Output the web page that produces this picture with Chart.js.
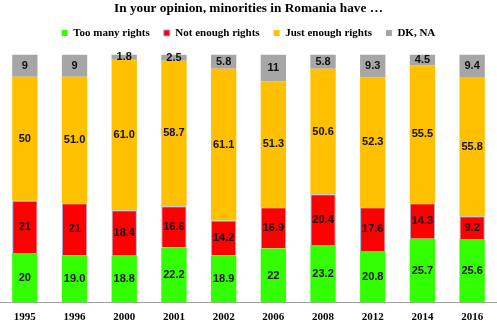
<!DOCTYPE html>
<html>
<head>
<meta charset="utf-8">
<script src="https://cdn.jsdelivr.net/npm/chart.js@4"></script>
<style>
  html, body { margin: 0; padding: 0; background: #fff; }
  #wrap { width: 497px; height: 323px; }
</style>
</head>
<body>
<div id="wrap"><canvas id="chart" width="497" height="323"></canvas></div>
<script>
// data (labels as printed on the bars)
const years = ['1995', '1996', '2000', '2001', '2002', '2006', '2008', '2012', '2014', '2016'];
const tooMany = ['20', '19.0', '18.8', '22.2', '18.9', '22', '23.2', '20.8', '25.7', '25.6'];
const notEnough = ['21', '21', '18.4', '16.6', '14.2', '16.9', '20.4', '17.6', '14.3', '9.2'];
const justEnough = ['50', '51.0', '61.0', '58.7', '61.1', '51.3', '50.6', '52.3', '55.5', '55.8'];
const dkNa = ['9', '9', '1.8', '2.5', '5.8', '11', '5.8', '9.3', '4.5', '9.4'];

// 100% stacked: each bar is scaled to its own total
const totals = years.map((y, i) =>
    Number(tooMany[i]) + Number(notEnough[i]) + Number(justEnough[i]) + Number(dkNa[i]));
const share = arr => arr.map((v, i) => Number(v) / totals[i] * 100);

// labels in the middle of each segment
const valueLabels = {
    id: 'valueLabels',
    afterDatasetsDraw(chart) {
        const ctx = chart.ctx;
        ctx.save();
        ctx.font = 'bold 11px "Liberation Sans"';
        ctx.fillStyle = '#111';
        ctx.textAlign = 'center';
        ctx.textBaseline = 'middle';
        chart.data.datasets.forEach((ds, i) => {
            chart.getDatasetMeta(i).data.forEach((bar, j) => {
                const p = bar.getProps(['x', 'y', 'base'], true);
                ctx.fillText(ds.printed[j], p.x, (p.y + p.base) / 2);
            });
        });
        ctx.restore();
    }
};

new Chart(document.getElementById('chart').getContext('2d'), {
    type: 'bar',
    data: {
        labels: years,
        datasets: [{
            label: 'Too many rights',
            data: share(tooMany),
            printed: tooMany,
            backgroundColor: '#33FF00'
        }, {
            label: 'Not enough rights',
            data: share(notEnough),
            printed: notEnough,
            backgroundColor: '#FF0000',
            borderColor: '#8EB4E3',
            borderWidth: 1
        }, {
            label: 'Just enough rights',
            data: share(justEnough),
            printed: justEnough,
            backgroundColor: '#FFC000'
        }, {
            label: 'DK, NA',
            data: share(dkNa),
            printed: dkNa,
            backgroundColor: '#A6A6A6'
        }]
    },
    options: {
        responsive: false,
        animation: false,
        layout: { padding: 0 },
        datasets: {
            bar: { barPercentage: 0.51, categoryPercentage: 1 }
        },
        plugins: {
            title: {
                display: true,
                text: 'In your opinion, minorities in Romania have …',
                color: '#000',
                font: { family: '"Liberation Serif"', size: 13.3, weight: 'bold' },
                padding: { top: 1, bottom: -3.5 }
            },
            legend: {
                position: 'top',
                labels: {
                    color: '#000',
                    font: { family: '"Liberation Serif"', size: 11, weight: 'bold' },
                    boxWidth: 6,
                    boxHeight: 6,
                    padding: 14
                }
            },
            tooltip: { enabled: false }
        },
        scales: {
            x: {
                stacked: true,
                grid: { display: false, drawTicks: false },
                border: { display: true, color: '#A0A0A0', width: 1 },
                ticks: {
                    color: '#000',
                    padding: 8,
                    font: { family: '"Liberation Serif"', size: 11, weight: 'bold' }
                },
                afterFit(scale) { scale.height = 20.5; }
            },
            // empty top axis, only keeps a gap under the legend
            gap: {
                type: 'category',
                position: 'top',
                grid: { display: false, drawTicks: false },
                border: { display: false },
                ticks: { display: false },
                afterFit(scale) { scale.height = 6; }
            },
            y: {
                stacked: true,
                display: false,
                min: 0,
                max: 100
            }
        }
    },
    plugins: [valueLabels]
});
</script>
</body>
</html>
